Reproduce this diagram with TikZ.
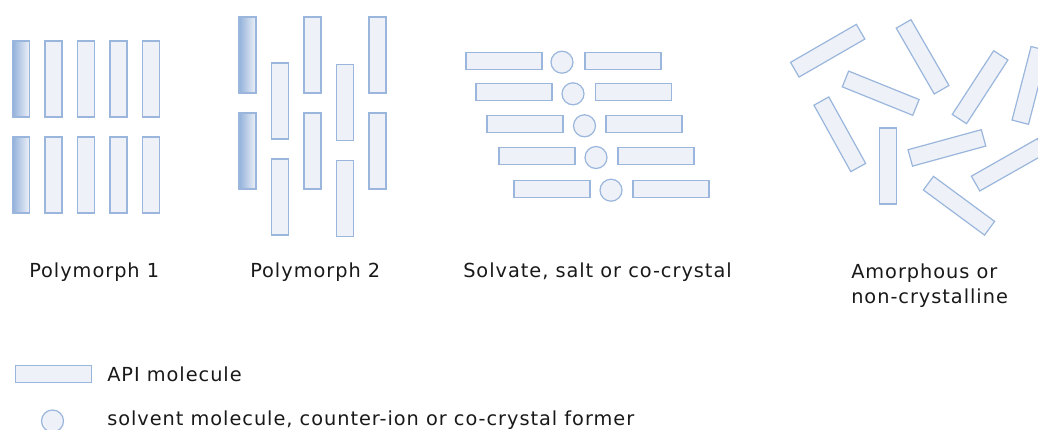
\documentclass[tikz,border=0pt]{standalone}
\usepackage{fontspec}
\setmainfont{DejaVu Sans}[LetterSpace=5]
\definecolor{molfill}{HTML}{EEF1F8}
\definecolor{moledge}{HTML}{9AB6DC}
\definecolor{molshade}{HTML}{93B1DA}
\tikzset{
  molbox/.style={draw=moledge, fill=molfill, line width=0.9pt, inner sep=0pt,
    minimum width=57pt, minimum height=12.75pt},
  vmol/.style={molbox, minimum width=12.75pt, minimum height=57pt},
  shmol/.style={vmol, left color=molshade, right color=molfill},
  solv/.style={circle, draw=moledge, fill=molfill, line width=0.9pt, inner sep=0pt, minimum size=16.5pt},
  lbl/.style={anchor=base west, inner sep=0pt, font=\fontsize{14.5}{17}\selectfont, text=black!90}
}
\begin{document}
\begin{tikzpicture}[x=0.75pt,y=-0.75pt]
\useasboundingbox (0,0) rectangle (1038,429);
\clip (0,0) rectangle (1038,429);
% Polymorph 1
\node[shmol] (p1a1) at (21,79) {};
\node[shmol] (p1b1) at (21,175) {};
\foreach \i/\x in {2/53.5,3/86,4/118.5,5/151}{
  \node[vmol] (p1a\i) at (\x,79) {};
  \node[vmol] (p1b\i) at (\x,175) {};
}
% Polymorph 2
\node[shmol] (p2a1) at (247.5,55) {};
\node[shmol] (p2b1) at (247.5,151) {};
\node[vmol] (p2a2) at (280,101) {};
\node[vmol] (p2b2) at (280,197) {};
\node[vmol] (p2a3) at (312.5,55) {};
\node[vmol] (p2b3) at (312.5,151) {};
\node[vmol] (p2a4) at (345,102.5) {};
\node[vmol] (p2b4) at (345,198.5) {};
\node[vmol] (p2a5) at (377.5,55) {};
\node[vmol] (p2b5) at (377.5,151) {};
% Solvate
\foreach \i/\xa/\xc/\xb/\y in {1/504/562/623/60.7, 2/514/573/633.5/92.3, 3/525/584.5/644/124.3, 4/537/596/656/156, 5/552/611/671/188.7}{
  \node[molbox] (sl\i) at (\xa,\y) {};
  \node[solv] (sc\i) at (\xc,\y+1.5) {};
  \node[molbox] (sr\i) at (\xb,\y) {};
}
% Amorphous
\node[molbox, rotate=30] (a1) at (827.7,50.7) {};
\node[molbox, rotate=-60] (a2) at (922.6,56.8) {};
\node[molbox, rotate=-22] (a3) at (880.7,93.2) {};
\node[molbox, rotate=57] (a4) at (980.1,87.2) {};
\node[molbox, rotate=75.5] (a5) at (1029.8,85.4) {};
\node[molbox, rotate=-61] (a6) at (839.8,134.3) {};
\node[vmol] (a7) at (888,166) {};
\node[molbox, rotate=15.3] (a8) at (946.9,147.9) {};
\node[molbox, rotate=29.6] (a9) at (1008.6,164.8) {};
\node[molbox, rotate=-36.4] (a10) at (959,205.7) {};
% Labels
\node[lbl] (t1) at (29,277) {Polymorph 1};
\node[lbl] (t2) at (250,277) {Polymorph 2};
\node[lbl] (t3) at (463,277) {Solvate, salt or co-crystal};
\node[lbl] (t4) at (851,278) {Amorphous or};
\node[lbl] (t5) at (851,303) {non-crystalline};
% Legend
\node[molbox] (lg1) at (53.5,374) {};
\node[lbl] (lt1) at (107,381) {API molecule};
\node[solv] (lg2) at (52.5,421) {};
\node[lbl] (lt2) at (107,425) {solvent molecule, counter-ion or co-crystal former};
\end{tikzpicture}
\end{document}
